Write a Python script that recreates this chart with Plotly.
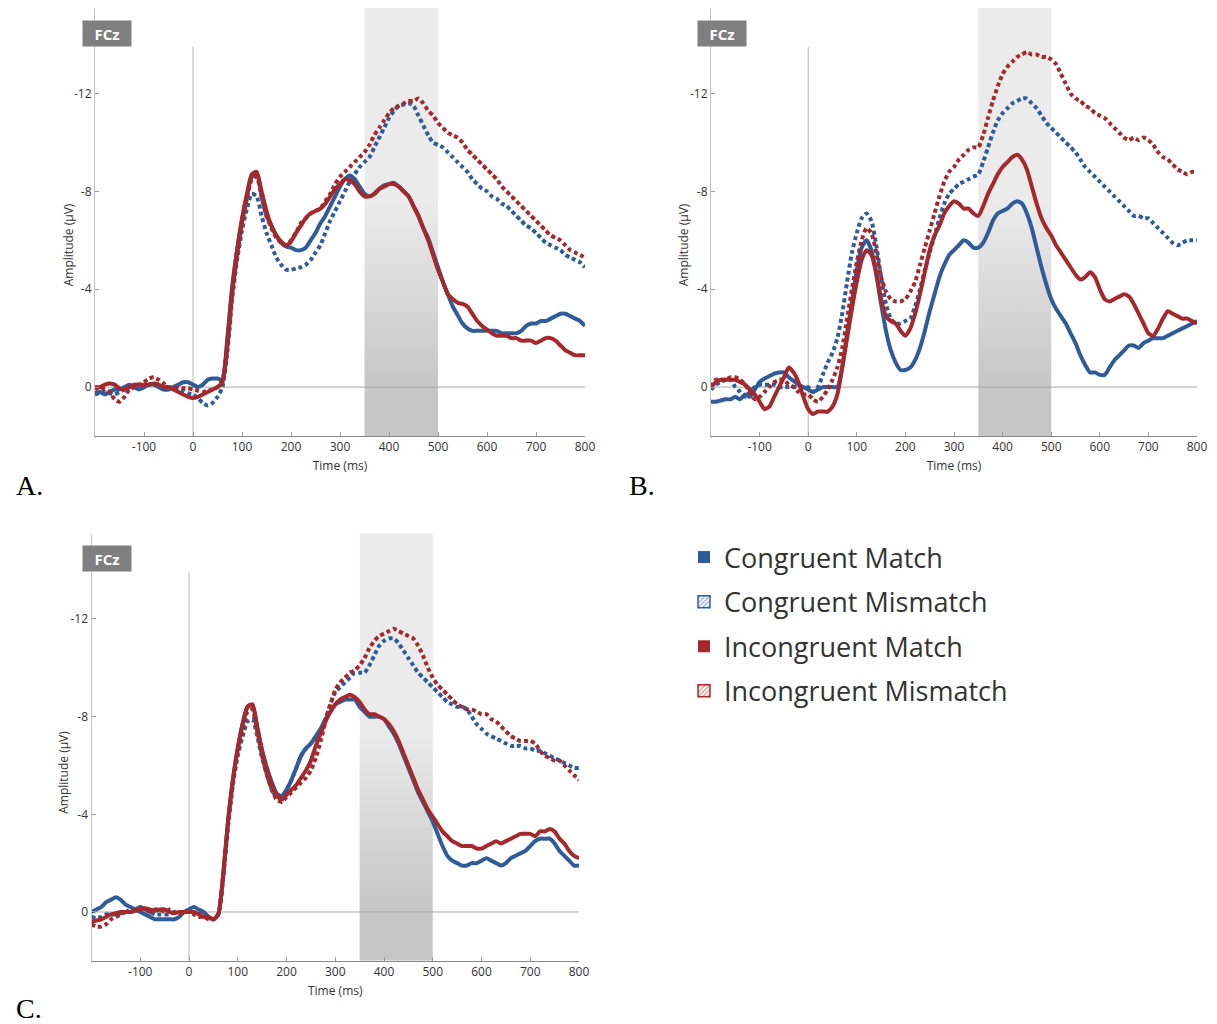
import plotly.graph_objects as go

# ---------------- data ----------------
time_ms = list(range(-200, 801, 10))
window_ms = [350, 500]
x_ticks = [-100, 0, 100, 200, 300, 400, 500, 600, 700, 800]
y_ticks = [0, -4, -8, -12]
series_names = ["Congruent Match", "Congruent Mismatch", "Incongruent Match", "Incongruent Mismatch"]
panel_letters = ["A.", "B.", "C."]
electrode = "FCz"

# Panel A
a_cong_match = [
    0.25, 0.2, 0.3, 0.2, 0.1, 0.1, 0.0, -0.1, 0.0, 0.1,
    0.0, -0.1, -0.1, 0.0, 0.1, 0.1, 0.0, -0.1, -0.2, -0.2,
    -0.1, 0.0, -0.1, -0.3, -0.35, -0.35, -0.3, -2.0, -4.1, -5.6,
    -6.8, -7.8, -8.6, -8.7, -7.8, -7.0, -6.6, -6.2, -5.9, -5.75,
    -5.7, -5.6, -5.6, -5.7, -6.0, -6.3, -6.7, -7.0, -7.4, -7.8,
    -8.2, -8.5, -8.65, -8.5, -8.2, -7.9, -7.8, -7.9, -8.1, -8.25,
    -8.3, -8.35, -8.2, -8.0, -7.8, -7.4, -7.0, -6.5, -6.1, -5.5,
    -4.9, -4.3, -3.8, -3.3, -2.95, -2.6, -2.4, -2.3, -2.3, -2.3,
    -2.3, -2.3, -2.3, -2.2, -2.2, -2.2, -2.2, -2.3, -2.5, -2.6,
    -2.6, -2.7, -2.7, -2.8, -2.9, -3.0, -3.0, -2.9, -2.8, -2.7,
    -2.5]
a_cong_mismatch = [
    0.3, 0.25, 0.2, 0.25, 0.3, 0.2, 0.1, 0.0, 0.0, 0.05,
    0.0, -0.1, -0.15, -0.1, 0.0, 0.05, 0.0, 0.05, 0.15, 0.25,
    0.3, 0.45, 0.65, 0.75, 0.65, 0.4, 0.0, -1.4, -3.6, -5.2,
    -6.4, -7.3, -7.9, -7.8, -7.0, -6.3, -5.8, -5.3, -5.0, -4.8,
    -4.8, -4.85, -4.9, -5.0, -5.2, -5.5, -5.8, -6.3, -6.8, -7.2,
    -7.6, -8.0, -8.4, -8.7, -9.0, -9.2, -9.4, -9.8, -10.2, -10.6,
    -11.0, -11.3, -11.5, -11.55, -11.6, -11.5, -11.1, -10.7, -10.3, -10.0,
    -9.9, -9.8, -9.6, -9.4, -9.2, -9.0, -8.8, -8.5, -8.3, -8.1,
    -8.0, -7.8, -7.7, -7.5, -7.4, -7.2, -7.0, -6.8, -6.6, -6.5,
    -6.3, -6.1, -5.9, -5.8, -5.7, -5.6, -5.4, -5.3, -5.2, -5.1,
    -4.9]
a_incong_match = [
    0.0, 0.0, -0.1, -0.15, -0.1, 0.05, 0.1, 0.0, -0.1, -0.1,
    -0.1, -0.1, -0.15, -0.1, 0.0, 0.0, 0.1, 0.2, 0.3, 0.4,
    0.45, 0.4, 0.3, 0.2, 0.1, 0.0, -0.2, -1.8, -4.0, -5.6,
    -6.9, -7.9, -8.7, -8.8, -8.0, -7.2, -6.6, -6.2, -5.95, -5.8,
    -5.95, -6.3, -6.6, -6.9, -7.1, -7.2, -7.3, -7.5, -7.8, -8.1,
    -8.3, -8.5, -8.45, -8.3, -8.0, -7.8, -7.8, -7.9, -8.1, -8.2,
    -8.3, -8.3, -8.2, -8.0, -7.8, -7.4, -7.0, -6.5, -6.0, -5.4,
    -4.8, -4.3, -3.8, -3.6, -3.45, -3.4, -3.3, -3.0, -2.7, -2.5,
    -2.35, -2.2, -2.1, -2.1, -2.1, -2.0, -2.0, -1.9, -1.9, -1.9,
    -1.8, -1.9, -2.0, -2.0, -1.9, -1.7, -1.5, -1.4, -1.3, -1.3,
    -1.3]
a_incong_mismatch = [
    0.1, 0.0, 0.1, 0.2, 0.5, 0.6, 0.4, 0.1, 0.0, -0.1,
    -0.2, -0.35, -0.4, -0.3, -0.15, 0.0, 0.0, 0.05, 0.05, 0.05,
    0.1, 0.15, 0.2, 0.15, 0.1, 0.0, -0.3, -1.6, -3.8, -5.4,
    -6.7, -7.7, -8.5, -8.6, -7.8, -7.0, -6.5, -6.1, -5.9, -5.8,
    -6.0, -6.3, -6.7, -6.9, -7.1, -7.2, -7.3, -7.6, -7.9, -8.3,
    -8.6, -8.8, -9.0, -9.2, -9.4, -9.6, -9.9, -10.3, -10.6, -10.9,
    -11.2, -11.4, -11.5, -11.6, -11.7, -11.7, -11.8, -11.6, -11.3, -11.1,
    -10.8, -10.6, -10.4, -10.3, -10.2, -10.0, -9.7, -9.5, -9.3, -9.1,
    -8.9, -8.7, -8.5, -8.2, -8.0, -7.8, -7.6, -7.4, -7.2, -7.0,
    -6.8, -6.6, -6.4, -6.2, -6.1, -6.0, -5.8, -5.6, -5.5, -5.4,
    -5.3]

# Panel B
b_cong_match = [
    0.6, 0.6, 0.55, 0.5, 0.5, 0.4, 0.5, 0.3, 0.4, 0.1,
    -0.2, -0.35, -0.45, -0.55, -0.6, -0.6, -0.4, -0.25, -0.1, 0.0,
    0.1, 0.2, 0.1, 0.0, 0.0, 0.0, 0.0, -0.8, -2.2, -3.5,
    -4.8, -5.7, -6.0, -5.6, -4.6, -3.4, -2.3, -1.5, -1.0, -0.7,
    -0.7, -0.8, -1.1, -1.6, -2.3, -3.1, -3.8, -4.5, -5.0, -5.4,
    -5.6, -5.8, -6.0, -5.9, -5.7, -5.7, -5.9, -6.3, -6.8, -7.1,
    -7.2, -7.3, -7.5, -7.6, -7.5, -7.1, -6.5, -5.7, -4.9, -4.2,
    -3.6, -3.2, -2.9, -2.6, -2.2, -1.8, -1.3, -0.9, -0.6, -0.6,
    -0.5, -0.5, -0.8, -1.1, -1.3, -1.5, -1.7, -1.7, -1.6, -1.8,
    -1.9, -2.0, -2.0, -2.0, -2.1, -2.2, -2.3, -2.4, -2.5, -2.6,
    -2.7]
b_cong_mismatch = [
    0.1, -0.1, -0.2, -0.3, -0.3, 0.0, 0.2, 0.4, 0.2, 0.0,
    -0.1, -0.1, -0.1, -0.1, 0.0, 0.0, 0.0, 0.0, 0.0, 0.0,
    0.0, 0.2, 0.0, -0.5, -1.0, -1.4, -2.0, -3.0, -4.3, -5.5,
    -6.3, -6.9, -7.1, -6.8, -5.8, -4.5, -3.4, -2.8, -2.6, -2.6,
    -2.7, -2.8, -3.3, -4.0, -4.8, -5.5, -6.2, -6.9, -7.5, -7.9,
    -8.1, -8.3, -8.4, -8.5, -8.6, -8.7, -9.2, -9.8, -10.4, -10.9,
    -11.2, -11.4, -11.6, -11.7, -11.8, -11.8, -11.6, -11.4, -11.1, -10.8,
    -10.6, -10.4, -10.2, -10.0, -9.8, -9.6, -9.3, -9.0, -8.8, -8.6,
    -8.4, -8.2, -8.0, -7.8, -7.6, -7.4, -7.2, -7.0, -7.0, -6.9,
    -6.9, -6.7, -6.5, -6.3, -6.1, -5.9, -5.8, -5.9, -6.0, -6.0,
    -6.0]
b_incong_match = [
    0.0, -0.2, -0.3, -0.3, -0.3, -0.3, -0.2, -0.1, 0.1, 0.3,
    0.6, 0.9, 0.8, 0.4, 0.0, -0.4, -0.8, -0.6, -0.2, 0.4,
    0.9, 1.1, 1.0, 1.0, 1.0, 0.8, 0.3, -0.8, -2.0, -3.2,
    -4.3, -5.2, -5.6, -5.4, -4.7, -3.6, -2.9, -2.7, -2.6, -2.3,
    -2.1, -2.4, -3.0, -3.8, -4.7, -5.6, -6.2, -6.6, -7.1, -7.4,
    -7.6, -7.5, -7.3, -7.3, -7.1, -7.0, -7.4, -7.9, -8.3, -8.7,
    -9.0, -9.2, -9.4, -9.5, -9.3, -8.9, -8.2, -7.5, -6.9, -6.5,
    -6.2, -5.8, -5.5, -5.2, -4.9, -4.6, -4.4, -4.5, -4.7, -4.5,
    -4.0, -3.6, -3.5, -3.6, -3.7, -3.8, -3.7, -3.4, -3.0, -2.6,
    -2.2, -2.1, -2.4, -2.8, -3.1, -3.0, -2.9, -2.8, -2.8, -2.7,
    -2.6]
b_incong_mismatch = [
    0.0, -0.3, -0.3, -0.3, -0.4, -0.4, -0.3, -0.1, 0.2, 0.5,
    0.4, 0.2, 0.0, -0.2, -0.3, -0.3, -0.1, 0.0, 0.2, 0.3,
    0.3, 0.5, 0.6, 0.4, 0.1, -0.3, -0.8, -1.6, -2.8, -4.0,
    -5.1, -6.0, -6.5, -6.3, -5.5, -4.5, -3.9, -3.6, -3.5, -3.5,
    -3.6, -3.9, -4.3, -5.0, -5.7, -6.4, -7.1, -7.8, -8.4, -8.8,
    -9.0, -9.3, -9.5, -9.7, -9.8, -9.8, -10.3, -11.0, -11.7, -12.3,
    -12.8, -13.1, -13.3, -13.5, -13.6, -13.7, -13.6, -13.6, -13.5, -13.5,
    -13.4, -13.2, -12.8, -12.4, -12.0, -11.8, -11.7, -11.5, -11.4, -11.2,
    -11.1, -11.0, -10.8, -10.6, -10.4, -10.2, -10.1, -10.2, -10.1, -10.2,
    -10.1, -9.9, -9.6, -9.4, -9.3, -9.1, -8.9, -8.8, -8.7, -8.8,
    -8.8]

# Panel C
c_cong_match = [
    0.0, -0.1, -0.2, -0.4, -0.5, -0.6, -0.5, -0.3, -0.2, -0.1,
    0.0, 0.1, 0.2, 0.3, 0.3, 0.3, 0.3, 0.3, 0.2, 0.0,
    -0.1, -0.2, -0.1, 0.0, 0.2, 0.3, 0.1, -1.5, -3.7, -5.4,
    -6.7, -7.7, -8.4, -8.5, -7.5, -6.6, -5.9, -5.3, -4.85, -4.75,
    -5.0, -5.4, -5.9, -6.4, -6.7, -6.9, -7.2, -7.5, -7.9, -8.2,
    -8.5, -8.6, -8.7, -8.7, -8.7, -8.4, -8.2, -8.0, -8.0, -8.0,
    -7.9, -7.6, -7.3, -6.9, -6.4, -5.9, -5.4, -4.9, -4.5, -4.1,
    -3.7, -3.2, -2.7, -2.3, -2.1, -2.0, -1.9, -1.9, -2.0, -2.0,
    -2.1, -2.2, -2.1, -2.0, -1.9, -2.0, -2.2, -2.3, -2.4, -2.5,
    -2.7, -2.9, -3.0, -3.0, -3.0, -2.8, -2.5, -2.3, -2.1, -1.9,
    -1.9]
c_cong_mismatch = [
    0.2, 0.25, 0.2, 0.1, 0.1, 0.1, 0.05, 0.0, -0.1, -0.1,
    -0.2, -0.1, 0.0, 0.1, 0.1, 0.1, 0.1, 0.0, 0.0, 0.0,
    0.0, 0.0, 0.0, 0.1, 0.2, 0.3, 0.1, -1.4, -3.5, -5.2,
    -6.4, -7.2, -7.8, -7.9, -7.2, -6.3, -5.6, -5.0, -4.7, -4.7,
    -5.0, -5.4, -5.9, -6.4, -6.7, -6.9, -7.1, -7.4, -7.9, -8.5,
    -9.0, -9.2, -9.4, -9.6, -9.8, -9.8, -9.8, -10.1, -10.5, -10.9,
    -11.1, -11.2, -11.2, -11.0, -10.7, -10.4, -10.1, -9.8, -9.6, -9.4,
    -9.2, -9.0, -8.8, -8.6, -8.5, -8.4, -8.4, -8.3, -8.0, -7.7,
    -7.5, -7.3, -7.2, -7.1, -7.0, -6.9, -6.8, -6.8, -6.8, -6.7,
    -6.7, -6.6, -6.6, -6.5, -6.4, -6.3, -6.2, -6.1, -6.0, -5.9,
    -5.9]
c_incong_match = [
    0.4, 0.35, 0.3, 0.2, 0.1, 0.05, 0.0, 0.0, 0.0, -0.05,
    -0.1, -0.15, -0.1, -0.05, -0.1, -0.1, 0.0, 0.05, 0.0, 0.0,
    0.0, 0.0, 0.1, 0.2, 0.2, 0.3, 0.1, -1.5, -3.7, -5.4,
    -6.7, -7.7, -8.4, -8.5, -7.6, -6.6, -5.8, -5.2, -4.8, -4.6,
    -4.8, -5.0, -5.2, -5.5, -5.8, -6.2, -6.8, -7.3, -7.8, -8.2,
    -8.5, -8.7, -8.8, -8.9, -8.8, -8.6, -8.3, -8.1, -8.1, -8.0,
    -7.9, -7.7, -7.4, -7.0, -6.5, -6.0, -5.5, -5.0, -4.6, -4.2,
    -3.9, -3.6, -3.3, -3.1, -2.9, -2.8, -2.7, -2.7, -2.7, -2.6,
    -2.6, -2.7, -2.8, -2.9, -2.8, -2.9, -3.0, -3.1, -3.2, -3.2,
    -3.2, -3.1, -3.3, -3.3, -3.4, -3.3, -3.0, -2.8, -2.5, -2.3,
    -2.2]
c_incong_mismatch = [
    0.5, 0.6, 0.6, 0.5, 0.3, 0.2, 0.1, 0.0, 0.0, -0.1,
    -0.2, -0.1, 0.0, -0.1, -0.1, 0.0, -0.1, 0.0, 0.1, 0.0,
    0.0, 0.1, 0.2, 0.2, 0.3, 0.3, 0.1, -1.4, -3.6, -5.3,
    -6.6, -7.5, -8.2, -8.3, -7.4, -6.4, -5.6, -5.0, -4.6, -4.5,
    -4.7, -4.9, -5.1, -5.3, -5.5, -5.8, -6.3, -7.0, -7.8, -8.5,
    -9.1, -9.4, -9.6, -9.8, -9.9, -10.1, -10.4, -10.8, -11.1, -11.3,
    -11.4, -11.5, -11.6, -11.5, -11.4, -11.3, -11.2, -10.9, -10.5, -10.0,
    -9.6, -9.3, -9.1, -8.9, -8.7, -8.5, -8.4, -8.3, -8.3, -8.2,
    -8.1, -8.1, -7.9, -7.8, -7.6, -7.4, -7.2, -7.1, -7.0, -7.0,
    -7.0, -6.9, -6.6, -6.4, -6.3, -6.2, -6.2, -6.0, -5.8, -5.6,
    -5.4]

# ---------------- styling ----------------
BLUE = "#2F5C98"
RED = "#A3292D"
W, H = 1217, 1024
WX = 1207.0  # effective horizontal extent observed in the rendered page
Y_RANGE = [2, -15.5]
X_RANGE = [-200, 800]

panels = [
    dict(ax="", data=[a_cong_match, a_cong_mismatch, a_incong_match, a_incong_mismatch],
         xpx=(95, 585), ypx=(436, 8), fcz=(82, 20), letter=(14, 485), ytitle=(68, -5.8)),
    dict(ax="2", data=[b_cong_match, b_cong_mismatch, b_incong_match, b_incong_mismatch],
         xpx=(711, 1197), ypx=(436, 8), fcz=(697, 20), letter=(627, 485), ytitle=(683, -5.8)),
    dict(ax="3", data=[c_cong_match, c_cong_mismatch, c_incong_match, c_incong_mismatch],
         xpx=(91.5, 579), ypx=(960.8, 533.5), fcz=(82, 545), letter=(14, 1008), ytitle=(64, -5.7)),
]

styles = [
    dict(color=BLUE, dash="solid"),
    dict(color=BLUE, dash="4px,3px"),
    dict(color=RED, dash="solid"),
    dict(color=RED, dash="4px,3px"),
]
draw_order = [0, 1, 2, 3]

fig = go.Figure()
layout = dict(width=W, height=H, autosize=False, margin=dict(l=0, r=0, t=0, b=0),
              paper_bgcolor="white", plot_bgcolor="white", showlegend=True)
annotations = []

tick_font = dict(family="Open Sans", size=12, color="#333")
title_font = dict(family="Open Sans", size=12, color="#333")

for i, p in enumerate(panels):
    xa = "x" + p["ax"]
    ya = "y" + p["ax"]
    # shaded analysis window
    fig.add_trace(go.Scatter(
        x=[window_ms[0], window_ms[1], window_ms[1], window_ms[0], window_ms[0]],
        y=[Y_RANGE[0], Y_RANGE[0], Y_RANGE[1], Y_RANGE[1], Y_RANGE[0]],
        xaxis=xa, yaxis=ya, mode="lines", line=dict(width=0), fill="toself",
        fillgradient=dict(type="vertical", colorscale=[[0, "#c6c6c6"], [1, "#ebebeb"]],
                          start=0, stop=-7.5),
        hoverinfo="skip", showlegend=False))
    # zero lines
    fig.add_trace(go.Scatter(x=[X_RANGE[0], X_RANGE[1]], y=[0, 0], xaxis=xa, yaxis=ya,
                             mode="lines", line=dict(color="#a8a8a8", width=1),
                             hoverinfo="skip", showlegend=False))
    fig.add_trace(go.Scatter(x=[0, 0], y=[Y_RANGE[0], -13.9], xaxis=xa, yaxis=ya,
                             mode="lines", line=dict(color="#b8b8b8", width=1),
                             hoverinfo="skip", showlegend=False))
    for k in draw_order:
        vals = p["data"][k]
        assert len(vals) == len(time_ms), (i, k, len(vals))
        fig.add_trace(go.Scatter(
            x=time_ms, y=vals, xaxis=xa, yaxis=ya, mode="lines",
            line=dict(color=styles[k]["color"], width=4, dash=styles[k]["dash"],
                      shape="spline", smoothing=0.6),
            name=series_names[k], showlegend=False))

    x0, x1 = p["xpx"]
    yb, yt = p["ypx"]
    layout["xaxis" + p["ax"]] = dict(
        domain=[x0 / WX, x1 / WX], range=X_RANGE, anchor=ya,
        tickmode="array", tickvals=x_ticks, ticktext=[str(v) for v in x_ticks],
        ticks="inside", ticklen=4, tickcolor="#999", tickfont=tick_font,
        showline=True, linecolor="#8a8a8a", linewidth=1, showgrid=False, zeroline=False,
        title=dict(text="Time (ms)", font=title_font, standoff=7))
    layout["yaxis" + p["ax"]] = dict(
        domain=[1 - yb / H, 1 - yt / H], range=Y_RANGE, anchor=xa,
        tickmode="array", tickvals=y_ticks, ticktext=[str(v) for v in y_ticks],
        ticks="inside", ticklen=4, tickcolor="#999", tickfont=tick_font,
        showline=True, linecolor="#c4c4c4", linewidth=1, showgrid=False, zeroline=False)
    tx, ty = p["ytitle"]
    annotations.append(dict(
        xref="paper", yref=ya, x=tx / WX, y=ty, xanchor="center", yanchor="middle",
        text="Amplitude (µV)", textangle=-90, showarrow=False, font=title_font))
    fx, fy = p["fcz"]
    annotations.append(dict(
        xref="paper", yref="paper", x=fx / WX, y=1 - fy / H, xanchor="left", yanchor="top",
        text="<b>" + electrode + "</b>", showarrow=False, bgcolor="#7f7f7f",
        width=42, height=19, borderpad=3,
        font=dict(family="Open Sans", size=15, color="white")))
    lx, ly = p["letter"]
    annotations.append(dict(
        xref="paper", yref="paper", x=lx / WX, y=1 - ly / H, xanchor="left", yanchor="middle",
        text=panel_letters[i], showarrow=False,
        font=dict(family="Liberation Serif", size=28, color="black")))

# legend entries (square swatches, hatched for mismatch)
for k in range(4):
    col = styles[k]["color"]
    hatched = k in (1, 3)
    marker = dict(color=col, line=dict(width=0))
    if hatched:
        marker = dict(color="white", line=dict(color=col, width=1.5),
                      pattern=dict(shape="/", fgcolor=col, bgcolor="white", size=4, solidity=0.45))
    fig.add_trace(go.Bar(x=[None], y=[None], name=series_names[k], marker=marker,
                         legendgroup=series_names[k], showlegend=True, xaxis="x", yaxis="y"))

layout["legend"] = dict(x=684 / WX, y=1 - 533 / H, xanchor="left", yanchor="top",
                        font=dict(family="Open Sans", size=27, color="#333"),
                        bgcolor="rgba(0,0,0,0)", tracegroupgap=6.5, itemwidth=30,
                        itemclick=False, itemdoubleclick=False)
layout["annotations"] = annotations
fig.update_layout(**layout)

fig.write_html("out.html", include_plotlyjs=True,
               config={"displayModeBar": False, "responsive": False})
